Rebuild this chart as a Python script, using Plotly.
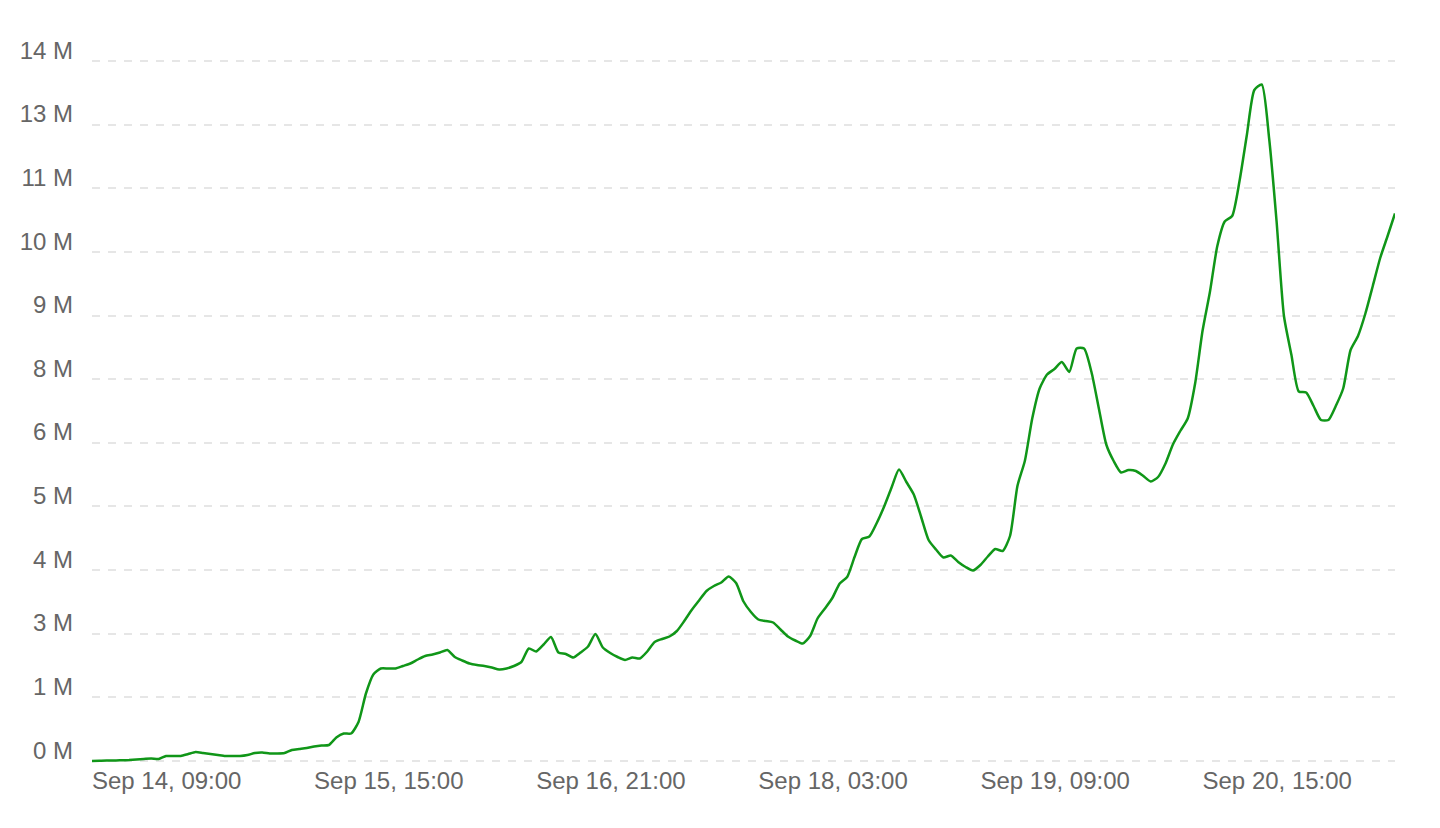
import pandas as pd
import plotly.graph_objects as go

# Hourly series starting Sep 14, 09:00 (values in millions)
start_time = "2017-09-14 09:00"
values_m = [
    0.0, 0.005, 0.01, 0.01, 0.015, 0.02, 0.03, 0.04, 0.05, 0.04,
    0.1, 0.1, 0.1, 0.14, 0.18, 0.16, 0.14, 0.12, 0.1, 0.1,
    0.1, 0.12, 0.16, 0.17, 0.15, 0.15, 0.16, 0.22, 0.24, 0.26,
    0.29, 0.31, 0.32, 0.47, 0.55, 0.55, 0.78, 1.35, 1.73, 1.85,
    1.85, 1.85, 1.9, 1.95, 2.03, 2.1, 2.13, 2.17, 2.22, 2.08,
    2.01, 1.95, 1.92, 1.9, 1.87, 1.83, 1.85, 1.9, 1.98, 2.25,
    2.19, 2.33, 2.48, 2.17, 2.14, 2.07, 2.17, 2.29, 2.54, 2.27,
    2.16, 2.08, 2.02, 2.07, 2.05, 2.19, 2.38, 2.44, 2.49, 2.6,
    2.8, 3.02, 3.21, 3.4, 3.5, 3.57, 3.69, 3.56, 3.19, 2.98,
    2.83, 2.8, 2.77, 2.63, 2.49, 2.41, 2.35, 2.5, 2.85, 3.05,
    3.26, 3.55, 3.68, 4.08, 4.44, 4.49, 4.76, 5.09, 5.47, 5.83,
    5.58, 5.33, 4.88, 4.42, 4.23, 4.07, 4.11, 3.98, 3.88, 3.81,
    3.92, 4.09, 4.24, 4.2, 4.5, 5.5, 6.0, 6.85, 7.45, 7.73,
    7.84, 7.98, 7.78, 8.25, 8.25, 7.78, 7.05, 6.33, 6.0, 5.77,
    5.82, 5.8, 5.7, 5.59, 5.68, 5.95, 6.33, 6.6, 6.85, 7.55,
    8.6, 9.38, 10.3, 10.79, 10.9, 11.6, 12.53, 13.42, 13.53, 12.45,
    10.8, 8.9, 8.13, 7.39, 7.37, 7.1, 6.82, 6.82, 7.1, 7.45,
    8.22, 8.5, 8.95, 9.5, 10.06, 10.5, 10.95,
]

# Y axis: 11 equal steps up to 14 M, labels are rounded values
y_max_m = 14
y_steps = 11
y_tick_labels = ["0 M", "1 M", "3 M", "4 M", "5 M", "6 M", "8 M", "9 M", "10 M", "11 M", "13 M", "14 M"]

# X axis ticks every 30 hours
x_tick_hours = 30
x_tick_count = 6

times = pd.date_range(start=start_time, periods=len(values_m), freq="h")
values = [v * 1e6 for v in values_m]

y_tick_vals = [k * y_max_m * 1e6 / y_steps for k in range(y_steps + 1)]
x_tick_vals = [times[0] + pd.Timedelta(hours=x_tick_hours * k) for k in range(x_tick_count)]

fig = go.Figure()
fig.add_trace(go.Scatter(
    x=times, y=values, mode="lines",
    line=dict(color="#109618", width=2.5, shape="spline", smoothing=0.6),
    hoverinfo="x+y",
))

font_family = "Liberation Sans, Arial, Helvetica, sans-serif"

fig.update_layout(
    width=1440, height=828,
    margin=dict(l=84, r=53, t=48, b=72),
    paper_bgcolor="white", plot_bgcolor="white",
    showlegend=False,
    font=dict(family=font_family, size=24, color="#666666"),
    xaxis=dict(
        range=[times[0], times[-1]],
        tickvals=x_tick_vals,
        tickformat="%b %d, %H:%M",
        ticklabelposition="outside right",
        showgrid=False, zeroline=False, showline=False,
        ticks="", tickfont=dict(size=24, color="#666666"),
        automargin=False,
    ),
    yaxis=dict(
        range=[-0.06e6, 14.1e6],
        tickvals=y_tick_vals,
        ticktext=y_tick_labels,
        ticklabelposition="outside top",
        ticklabelstandoff=18,
        ticklabelshift=6,
        showgrid=True, gridcolor="#e6e6e6", gridwidth=2, griddash="8px,8px",
        zeroline=False, showline=False, ticks="",
        tickfont=dict(size=24, color="#666666"),
        automargin=False,
    ),
)

fig.write_html("out.html")
